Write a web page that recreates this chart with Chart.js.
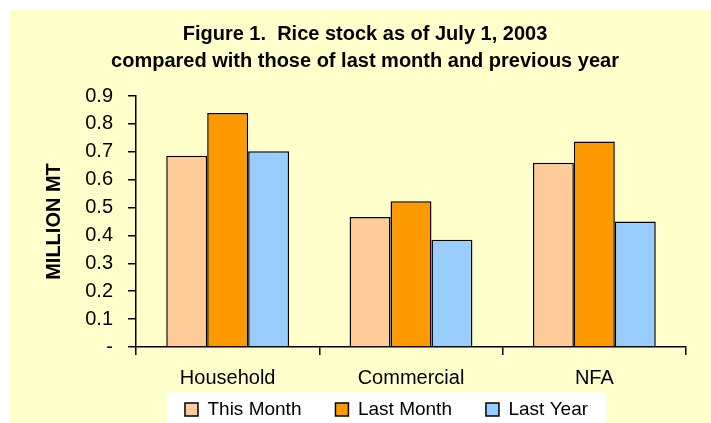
<!DOCTYPE html>
<html>
<head>
<meta charset="utf-8">
<script src="https://cdn.jsdelivr.net/npm/chart.js@4.4.1/dist/chart.umd.min.js"></script>
<style>
  html, body { margin: 0; padding: 0; background: #fff; overflow: hidden; }
  canvas { display: block; }
</style>
</head>
<body>
<canvas id="grafico" width="711" height="423"></canvas>
<script>
const categorias = ['Household', 'Commercial', 'NFA'];
const thisMonth = [0.686, 0.466, 0.661];
const lastMonth = [0.839, 0.523, 0.737];
const lastYear = [0.702, 0.385, 0.450];
const yTickLabels = ['-', '0.1', '0.2', '0.3', '0.4', '0.5', '0.6', '0.7', '0.8', '0.9'];

Chart.defaults.font.family = '"Liberation Sans", Arial, sans-serif';
Chart.defaults.color = '#000';

// fondo amarillo + caja blanca de la leyenda, y leyenda movida a su sitio
const fondo = {
  id: 'fondo',
  afterLayout(chart) {
    const lg = chart.legend;
    const dx = 386.5 - (lg.left + lg.right) / 2;
    lg.left += dx; lg.right += dx;
    lg.top = 366;
    lg.height = 80;
    lg.bottom = lg.top + lg.height;
  },
  beforeDraw(chart) {
    const ctx = chart.ctx;
    ctx.save();
    ctx.fillStyle = '#fff';
    ctx.fillRect(0, 0, chart.width, chart.height);
    ctx.fillStyle = '#FFFFCC';
    ctx.fillRect(10, 10, chart.width - 10, chart.height - 10);
    const lg = chart.legend;
    const pad = lg.options.labels.padding;
    const w = lg.lineWidths[0] - pad + 36;
    const cx = (lg.left + lg.right) / 2;
    const cy = lg.top + pad + 9.5;
    ctx.fillStyle = '#fff';
    ctx.fillRect(cx - w / 2, cy - 17, w, chart.height);
    ctx.restore();
  }
};

new Chart(document.getElementById('grafico'), {
  type: 'bar',
  data: {
    labels: categorias,
    datasets: [
      { label: 'This Month', data: thisMonth, backgroundColor: '#FFCC99', borderColor: '#000', borderWidth: 1.5 },
      { label: 'Last Month', data: lastMonth, backgroundColor: '#FF9900', borderColor: '#000', borderWidth: 1.5 },
      { label: 'Last Year', data: lastYear, backgroundColor: '#99CCFF', borderColor: '#000', borderWidth: 1.5 }
    ]
  },
  options: {
    responsive: false,
    animation: false,
    devicePixelRatio: 1,
    layout: { padding: { left: 44, right: 25, top: 0, bottom: 0 } },
    datasets: { bar: { categoryPercentage: 0.67, barPercentage: 1.0 } },
    plugins: {
      title: {
        display: true,
        text: ['Figure 1.  Rice stock as of July 1, 2003', 'compared with those of last month and previous year'],
        font: { size: 20, weight: 'bold', lineHeight: 1.35 },
        color: '#000',
        padding: { top: 21, bottom: 21 }
      },
      legend: {
        position: 'bottom',
        maxHeight: 31,
        labels: { font: { size: 19 }, boxWidth: 13, boxHeight: 13, padding: 34, color: '#000' }
      },
      tooltip: { enabled: false }
    },
    scales: {
      x: {
        grid: { offset: true, drawOnChartArea: false, tickLength: 8, color: '#000', lineWidth: 1.5 },
        border: { color: '#000', width: 1.5 },
        ticks: { font: { size: 20 }, padding: 11, color: '#000' },
        afterFit(scale) {
          scale.height = scale.chart.height - scale.chart.legend.height - 347;
        }
      },
      y: {
        min: 0,
        max: 0.9,
        grid: { drawOnChartArea: false, tickLength: 8, color: '#000', lineWidth: 1.5 },
        border: { color: '#000', width: 1.5 },
        ticks: {
          stepSize: 0.1,
          font: { size: 20 },
          padding: 15,
          color: '#000',
          callback: (v, i) => yTickLabels[i]
        },
        title: {
          display: true,
          text: 'MILLION MT',
          font: { size: 20, weight: 'bold', lineHeight: 1 },
          padding: 0,
          color: '#000'
        },
        afterFit(scale) {
          scale.width = 92;
        }
      }
    }
  },
  plugins: [fondo]
});
</script>
</body>
</html>
